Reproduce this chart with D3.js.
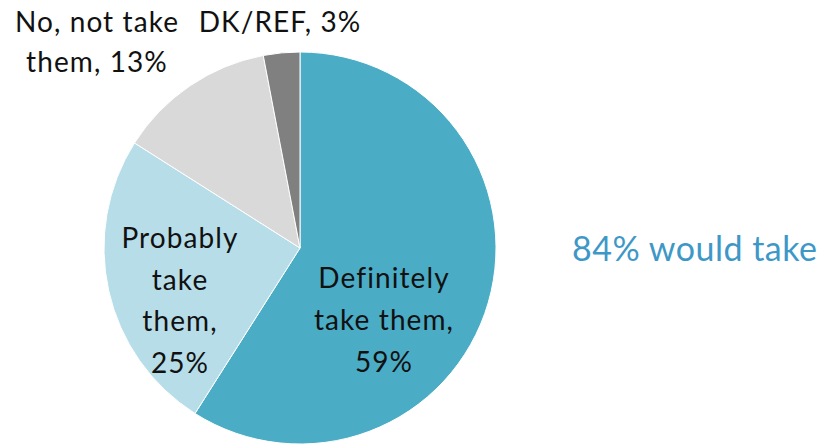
<!DOCTYPE html>
<html>
<head>
<meta charset="utf-8">
<script src="https://cdn.jsdelivr.net/npm/d3@7"></script>
<style>
  html, body { margin: 0; padding: 0; background: #ffffff; }
  svg text { font-family: Lato, "Noto Sans", sans-serif; }
</style>
</head>
<body>
<svg id="chart" width="820" height="445"></svg>
<script>
// Survey answers, in drawing order (clockwise from 12 o'clock)
const categories = ["Definitely take them", "Probably take them", "No, not take them", "DK/REF"];
const values = [59, 25, 13, 3];
const colors = ["#4BACC6", "#B7DDE8", "#D9D9D9", "#808080"];
// Label lines for each slice
const labelLines = [
  ["Definitely", "take them,", "59%"],
  ["Probably", "take", "them,", "25%"],
  ["No, not take", "them, 13%"],
  ["DK/REF, 3%"]
];
const summaryText = "84% would take";

const svg = d3.select("#chart");
const cx = 300, cy = 248, radius = 196;

const pie = d3.pie().sort(null).value(d => d.value);
const arcs = pie(categories.map((c, i) => ({ name: c, value: values[i], color: colors[i], lines: labelLines[i] })));
const arc = d3.arc().innerRadius(0).outerRadius(radius);

const g = svg.append("g").attr("transform", `translate(${cx},${cy})`);

g.selectAll("path.slice")
  .data(arcs)
  .join("path")
  .attr("class", "slice")
  .attr("d", arc)
  .attr("fill", d => d.data.color)
  .attr("stroke", "#ffffff")
  .attr("stroke-width", 1);

// Label anchor (first-line baseline) and line step, relative to pie centre
const labelPos = [
  { x: 84, y: 40, step: 42 },
  { x: -120, y: 0, step: 41.5 },
  { x: -203, y: -216, step: 40 },
  { x: -20, y: -216, step: 40 }
];

arcs.forEach((d, i) => {
  const p = labelPos[i];
  const t = g.append("text")
    .attr("text-anchor", "middle")
    .attr("font-size", 28)
    .attr("letter-spacing", 1.1)
    .attr("fill", "#111111");
  d.data.lines.forEach((line, j) => {
    t.append("tspan")
      .attr("x", p.x)
      .attr("y", p.y + j * p.step)
      .text(line);
  });
});

svg.append("text")
  .attr("x", 572)
  .attr("y", 261)
  .attr("font-size", 34)
  .attr("letter-spacing", 0.5)
  .attr("fill", "#3E98C7")
  .text(summaryText);
</script>
</body>
</html>
